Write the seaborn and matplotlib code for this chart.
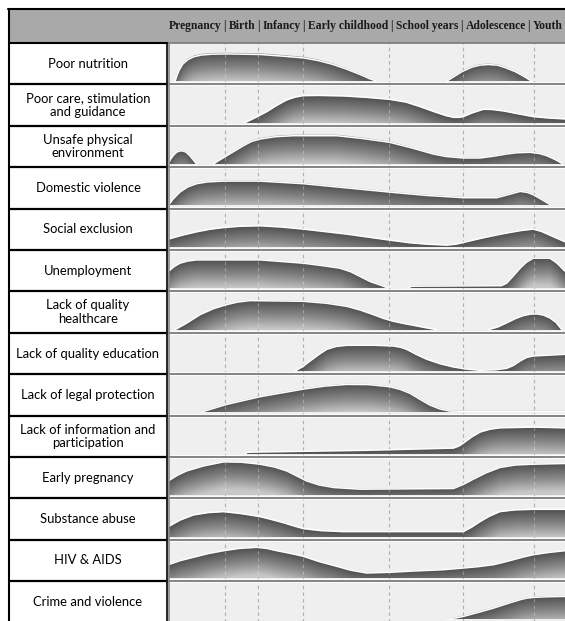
import numpy as np
import matplotlib
matplotlib.use('Agg')
import matplotlib.pyplot as plt
from matplotlib.colors import LinearSegmentedColormap
import seaborn as sns

# life stages along the top, with the dashed boundaries (0-100 position scale)
stages = ["Pregnancy", "Birth", "Infancy", "Early childhood", "School years", "Adolescence", "Youth"]
stage_edges = [0, 14.4, 22.7, 34.0, 55.7, 74.3, 92.2, 100]

risk_labels = [
    "Poor nutrition",
    "Poor care, stimulation\nand guidance",
    "Unsafe physical\nenvironment",
    "Domestic violence",
    "Social exclusion",
    "Unemployment",
    "Lack of quality\nhealthcare",
    "Lack of quality education",
    "Lack of legal protection",
    "Lack of information and\nparticipation",
    "Early pregnancy",
    "Substance abuse",
    "HIV & AIDS",
    "Crime and violence",
]

# risk intensity profiles, one list of (position, intensity) segments per risk
poor_nutrition = [
    ([1.8, 2.2, 2.8, 3.7, 5.0, 6.5, 8.5, 11.0, 14.8, 23.2, 29.0, 34.1, 38.0, 41.6, 45.0, 48.4, 50.8, 52.6],
     [0, 5, 11, 17, 21.5, 24.5, 26.2, 27, 27.3, 26.7, 25, 23.3, 20.5, 16.7, 12, 6.7, 2.5, 0]),
    ([70.2, 72.0, 74.0, 76.5, 78.5, 80.7, 83.0, 85.0, 87.5, 89.8, 91.6],
     [0, 4.5, 9.5, 14, 16, 16.7, 16, 13.5, 9.5, 4.5, 0]),
]
poor_care = [
    ([19.4, 22.0, 24.9, 27.5, 29.9, 32.0, 34.1, 38.0, 44.2, 50.0, 55.8, 60.0, 63.5, 67.0,
      70.0, 71.9, 73.2, 74.4, 76.5, 79.4, 81.5, 84.5, 88.0, 92.0, 96.0, 100],
     [0, 5, 11, 17.5, 22.7, 25.5, 27, 27.2, 26.7, 25.3, 23.3, 20.5, 16, 11,
      7, 5.3, 5.2, 6, 9.5, 13.3, 13.2, 11.7, 9, 6, 4.6, 3.7]),
]
unsafe_environment = [
    ([0.1, 0.6, 1.3, 2.2, 3.4, 4.5, 5.5, 6.4, 7.2], [0, 4.5, 8.3, 12, 13.3, 12, 8.3, 4, 0]),
    ([11.4, 13.0, 14.8, 17.0, 19.0, 21.0, 23.2, 27.0, 31.6, 42.5, 49.0, 55.8, 61.0, 66.8,
      70.0, 74.4, 78.6, 82.0, 85.3, 88.0, 91.2, 93.5, 95.4, 97.5, 99.2],
     [0, 4, 8.3, 13.5, 18.3, 22.5, 25, 27.3, 28.3, 28.3, 25.5, 21.7, 16.5, 10,
      7.5, 6, 6, 7.8, 10, 11.3, 11.7, 10.5, 8.3, 4.5, 0.7]),
]
domestic_violence = [
    ([0.1, 1.2, 3.0, 5.0, 7.2, 10.0, 14.0, 23.2, 34.1, 45.0, 55.8, 65.0, 74.4, 82.8,
      85.5, 88.7, 90.5, 92.0, 94.3, 96.6],
     [0, 6, 13.3, 18.5, 21.7, 23.5, 24.3, 24.3, 21.7, 17.5, 13.3, 10, 7.7, 7.7,
      10.5, 14, 13, 10.7, 5.5, 0]),
]
social_exclusion = [
    ([0.1, 3.5, 7.2, 10.5, 14.0, 18.0, 23.2, 28.5, 34.1, 45.0, 55.8, 61.0, 65.0, 70.2,
      72.5, 74.4, 77.0, 80.0, 83.0, 86.1, 89.0, 92.0, 94.0, 96.0, 98.0, 100],
     [7.7, 11.5, 15, 17.5, 19.3, 20.5, 21, 19.8, 17.7, 12.7, 6.7, 4, 2.7, 1.7,
      2.6, 4.3, 6.8, 9.5, 12, 14.3, 16.3, 17.7, 15.5, 12, 8.5, 5]),
]
unemployment = [
    ([0.1, 1.5, 3.0, 5.0, 7.2, 23.2, 34.1, 39.0, 43.3, 46.0, 48.4, 51.0, 53.4, 55.5],
     [16.7, 21.5, 25, 27.2, 28.3, 28.3, 25, 22.5, 20, 16.5, 11.7, 6.5, 3.3, 0]),
    ([60.5, 61.2, 62.0, 84.0, 85.3, 86.7, 88.7, 90.3, 92.0, 96.2, 98.0, 100],
     [0, 1.8, 2, 2.5, 5, 11, 20, 26, 30, 30, 25, 17]),
]
quality_healthcare = [
    ([1.8, 4.5, 8.1, 11.5, 14.8, 17.5, 20.7, 34.1, 40.0, 45.0, 48.5, 51.7, 54.3, 56.8,
      59.5, 61.8, 64.8, 67.7],
     [0, 6, 15, 21, 25, 27.5, 29, 28.3, 26.3, 23.3, 19.5, 15, 11.2, 8.3,
      6, 4.3, 2, 0]),
    ([80.7, 83.0, 85.3, 87.5, 89.5, 91.3, 92.9, 94.6, 96.2, 97.8, 99.2],
     [0, 2.5, 6.7, 11, 14, 15.5, 15.7, 14.5, 11.7, 7, 0]),
]
quality_education = [
    ([32.0, 34.0, 35.8, 38.0, 40.0, 42.3, 45.0, 52.0, 56.8, 58.6, 60.1, 62.6, 65.2, 68.5,
      71.9, 75.0, 78.6, 82.5, 85.3, 87.0, 88.7, 90.3, 92.0, 100],
     [0, 4.5, 10, 16.5, 21.7, 24.5, 25.7, 25.7, 25, 23.7, 21.7, 16.5, 11.7, 7.3,
      4, 2, 0.7, 1.2, 2.7, 5.5, 10, 13.5, 15, 16.7]),
]
legal_protection = [
    ([8.1, 14.8, 23.2, 34.1, 39.5, 45.0, 50.5, 55.8, 58.5, 61.0, 63.5, 66.0, 68.5, 71.0, 75.0, 100],
     [0, 8, 15.7, 23.3, 26.3, 28, 27.8, 25.7, 23, 19, 13, 7.3, 3.4, 1.3, 1, 1]),
]
information_participation = [
    ([19.4, 20.0, 21.5, 50.0, 71.9, 73.3, 74.4, 76.5, 78.6, 81.0, 83.6, 92.0, 100],
     [0, 1.5, 1.7, 3.5, 5.7, 7.8, 10.7, 16.8, 21.7, 24.5, 26, 26.7, 26]),
]
early_pregnancy = [
    ([0.1, 2.3, 4.7, 9.0, 14.0, 18.5, 23.2, 26.8, 29.9, 32.4, 34.9, 38.0, 41.7, 48.4,
      71.9, 74.4, 76.9, 80.2, 83.6, 87.5, 92.0, 100],
     [14.3, 19.8, 24.3, 29.3, 33.3, 33, 31, 28.2, 24.3, 19.3, 14.3, 10.3, 7.7, 6,
      6.7, 10.8, 16, 22.5, 27.7, 30.2, 31, 31.7]),
]
substance_abuse = [
    ([0.1, 3.0, 6.4, 10.0, 14.0, 18.5, 23.2, 26.0, 29.0, 31.6, 34.1, 38.5, 44.2, 74.4,
      76.5, 78.6, 81.0, 83.6, 87.5, 92.0, 100],
     [10, 16.5, 21.7, 24, 25, 23, 20, 17.2, 14, 10.8, 8, 6, 5, 5,
      9.5, 15, 20.5, 25, 26.8, 27.3, 27.3]),
]
hiv_aids = [
    ([0.1, 3.0, 6.4, 10.0, 14.0, 18.0, 22.4, 25.0, 27.4, 30.8, 34.1, 38.0, 42.5, 46.0,
      50.0, 55.8, 62.0, 69.4, 74.4, 78.0, 82.0, 84.5, 87.0, 89.5, 92.0, 96.0, 100],
     [13.3, 17.3, 20.7, 24.3, 27.3, 29.6, 30.7, 29.5, 27.3, 24.6, 21.7, 16.5, 11.7, 7.8,
      5, 5.7, 7, 8.3, 10, 11.3, 13.3, 15.7, 18.3, 21, 23.3, 25.6, 27.3]),
]
crime_violence = [
    ([70.2, 72.5, 74.4, 78.0, 82.0, 85.5, 88.7, 90.3, 92.0, 96.0, 100],
     [0, 1.5, 3, 6.8, 11.3, 15.8, 19.7, 21.2, 22, 22.7, 23]),
]

profiles = [poor_nutrition, poor_care, unsafe_environment, domestic_violence,
            social_exclusion, unemployment, quality_healthcare, quality_education,
            legal_protection, information_participation, early_pregnancy,
            substance_abuse, hiv_aids, crime_violence]

sns.set_theme(style='white')
plt.rcParams['font.family'] = ['Lato', 'DejaVu Sans']

W, H = 565, 621
fig = plt.figure(figsize=(W / 100, H / 100), dpi=100)

# layout in pixels
left, split, top_line, header_bot = 8.5, 167.5, 8.5, 43.0
row_h = 41.4

def px_axes(x0, y0, w, h):
    return fig.add_axes([x0 / W, 1 - (y0 + h) / H, w / W, h / H])

# background frame
bg = fig.add_axes([0, 0, 1, 1])
bg.set_xlim(0, W)
bg.set_ylim(H, 0)
bg.axis('off')
bg.add_patch(plt.Rectangle((left, top_line), W - left, header_bot - top_line,
                           facecolor='#a9a9a9', edgecolor='none'))
for i, lab in enumerate(risk_labels):
    yc = header_bot + (i + 0.5) * row_h
    bg.text((left + split) / 2, yc, lab, ha='center', va='center',
            fontsize=9.4, color='black', linespacing=1.15)

# header: stage names run on one line, a bar centred in each gap
hdr_w = W - split - 0.5
hdr = px_axes(split + 0.5, top_line, hdr_w, header_bot - top_line)
hdr.set_xlim(0, hdr_w)
hdr.set_ylim(0, 1)
hdr.axis('off')
hstyle = dict(va='center', fontsize=8.4, fontweight='bold', color='#1a1a1a',
              family=['Liberation Serif', 'DejaVu Serif'])
wtexts = [hdr.text(0, 0.5, st, ha='left', **hstyle) for st in stages]
renderer = fig.canvas.get_renderer()
widths = [t.get_window_extent(renderer).width for t in wtexts]
gap = (hdr_w - 3 - sum(widths)) / (len(stages) - 1)
xpos = 1.0
for k, (t, w) in enumerate(zip(wtexts, widths)):
    t.set_x(xpos)
    xpos += w + gap
    if k < len(stages) - 1:
        hdr.text(xpos - gap / 2 - 1.0, 0.5, '|', ha='center', **hstyle)

cmap = LinearSegmentedColormap.from_list('shade', ['#505050', '#868686', '#c8c8c8'])
xs = np.linspace(0, 100, 1200)
ys = np.linspace(0, 38, 300)
depth = 28.0

for i, segs in enumerate(profiles):
    ax = px_axes(split + 0.5, header_bot + i * row_h, W - split - 0.5, row_h)
    ax.set_facecolor('#efefef')
    for s in ax.spines.values():
        s.set_visible(False)

    for e in stage_edges[1:-1]:
        ax.axvline(e, color='#8f8f8f', lw=0.8, ls=(0, (3, 3)), zorder=1)

    hx = np.zeros_like(xs)
    for sx, sh in segs:
        hx = np.maximum(hx, np.interp(xs, sx, sh, left=0, right=0))
    t = (hx[None, :] - ys[:, None]) / depth
    shade = np.ma.masked_where((t < 0) | (hx[None, :] <= 0), np.clip(t, 0, 1))
    ax.imshow(shade, extent=(0, 100, 0, 38), origin='lower', aspect='auto',
              cmap=cmap, vmin=0, vmax=1, interpolation='bilinear', zorder=2)

    for sx, sh in segs:
        sns.lineplot(x=sx, y=sh, ax=ax, color='white', lw=1.1, sort=False,
                     zorder=3, legend=False)

    for e in stage_edges[1:-1]:
        ax.axvline(e, color='white', alpha=0.3, lw=0.8, ls=(0, (3, 3)), zorder=4)

    ax.set_xlim(0, 100)
    ax.set_ylim(-3.2, row_h - 3.2)
    ax.set_xticks([])
    ax.set_yticks([])
    ax.set_xlabel('')
    ax.set_ylabel('')

# grid lines on top
ov = fig.add_axes([0, 0, 1, 1])
ov.set_xlim(0, W)
ov.set_ylim(H, 0)
ov.axis('off')
ov.patch.set_alpha(0)
ov.plot([left - 0.5, W], [top_line, top_line], color='black', lw=1.5)
ov.plot([left, left], [top_line, H], color='black', lw=1.5)
ov.plot([left, split], [header_bot, header_bot], color='black', lw=1.5)
ov.plot([split, W], [header_bot, header_bot], color='#7a7a7a', lw=1.2)
for k in range(1, len(risk_labels)):
    yb = header_bot + k * row_h
    ov.plot([left, split], [yb, yb], color='black', lw=1.6)
    ov.plot([split, W], [yb, yb], color='white', lw=2.6)
    ov.plot([split, W], [yb, yb], color='#6e6e6e', lw=1.2)
ov.plot([split - 1, split - 1], [header_bot, H], color='black', lw=1.2)
ov.plot([split + 1, split + 1], [header_bot, H], color='#8a8a8a', lw=1.2)

plt.savefig('out.png', dpi=100)
